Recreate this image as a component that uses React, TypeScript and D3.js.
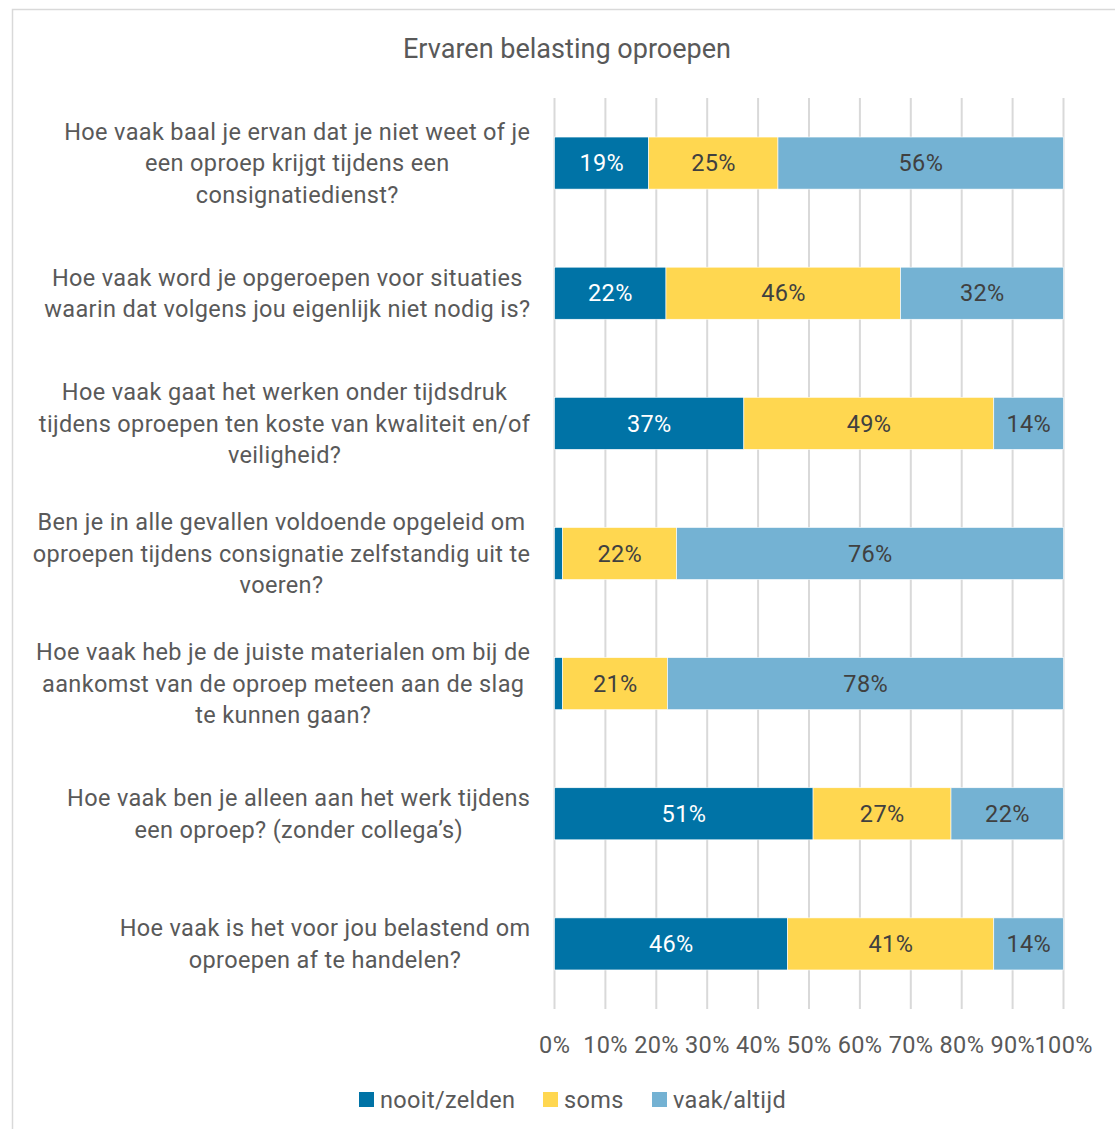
import React, { useEffect, useRef } from "react";
import * as d3 from "d3";

const title = "Ervaren belasting oproepen";

const questions: string[][] = [
  ["Hoe vaak baal je ervan dat je niet weet of je", "een oproep krijgt tijdens een", "consignatiedienst?"],
  ["Hoe vaak word je opgeroepen voor situaties", "waarin dat volgens jou eigenlijk niet nodig is?"],
  ["Hoe vaak gaat het werken onder tijdsdruk", "tijdens oproepen ten koste van kwaliteit en/of", "veiligheid?"],
  ["Ben je in alle gevallen voldoende opgeleid om", "oproepen tijdens consignatie zelfstandig uit te", "voeren?"],
  ["Hoe vaak heb je de juiste materialen om bij de", "aankomst van de oproep meteen aan de slag", "te kunnen gaan?"],
  ["Hoe vaak ben je alleen aan het werk tijdens", "een oproep? (zonder collega’s)"],
  ["Hoe vaak is het voor jou belastend om", "oproepen af te handelen?"],
];

const seriesNames = ["nooit/zelden", "soms", "vaak/altijd"];
const nooitZelden = [18.5, 21.9, 37.2, 1.6, 1.6, 50.8, 45.8];
const soms = [25.4, 46.1, 49.1, 22.4, 20.6, 27.1, 40.5];
const vaakAltijd = [56.1, 32.0, 13.7, 76.0, 77.8, 22.1, 13.7];

const xTicks = [0, 10, 20, 30, 40, 50, 60, 70, 80, 90, 100];

const colors = ["#0073a6", "#ffd750", "#74b2d3"];
const labelColors = ["#ffffff", "#404040", "#404040"];
const textColor = "#595959";
const font = "Roboto, 'Noto Sans', sans-serif";
const fs = 23.5;
const ls = 0.35;

export default function App() {
  const ref = useRef<SVGSVGElement>(null);

  useEffect(() => {
    const svg = d3.select(ref.current);
    svg.selectAll("*").remove();

    // outer border
    svg.append("rect")
      .attr("x", 12.5).attr("y", 9.5).attr("width", 1300).attr("height", 1300)
      .attr("fill", "#fff").attr("stroke", "#d9d9d9").attr("stroke-width", 1.5);

    // title
    svg.append("text")
      .attr("x", 567).attr("y", 58)
      .attr("text-anchor", "middle")
      .attr("font-family", font).attr("font-size", 28)
      .attr("fill", textColor)
      .attr("textLength", 328).attr("lengthAdjust", "spacingAndGlyphs")
      .text(title);

    const x = d3.scaleLinear().domain([0, 100]).range([554.5, 1063.5]);
    const y = d3.scaleBand<number>()
      .domain(d3.range(questions.length))
      .range([98, 1009])
      .paddingInner(0.6).paddingOuter(0.3);

    // grid
    svg.append("g").selectAll("line").data(xTicks).join("line")
      .attr("x1", (d) => x(d)).attr("x2", (d) => x(d))
      .attr("y1", 98).attr("y2", 1009)
      .attr("stroke", "#d9d9d9").attr("stroke-width", 2);

    // tick labels
    svg.append("g").selectAll("text").data(xTicks).join("text")
      .attr("x", (d) => x(d) + ls / 2).attr("y", 1045)
      .attr("dy", "0.35em")
      .attr("text-anchor", "middle")
      .attr("font-family", font).attr("font-size", fs)
      .attr("letter-spacing", ls)
      .attr("fill", textColor)
      .text((d) => `${d}%`);

    const table = questions.map((q, i) => ({
      i,
      nooit: nooitZelden[i],
      soms: soms[i],
      vaak: vaakAltijd[i],
    }));
    const stack = d3.stack<any>().keys(["nooit", "soms", "vaak"]);
    const layers = stack(table);

    layers.forEach((layer, k) => {
      const g = svg.append("g");
      g.selectAll("rect").data(layer).join("rect")
        .attr("x", (d) => x(d[0]))
        .attr("y", (d: any) => y(d.data.i)!)
        .attr("width", (d) => x(d[1]) - x(d[0]))
        .attr("height", y.bandwidth())
        .attr("fill", colors[k])
        .attr("stroke", "#ffffff").attr("stroke-width", 0.6);
      g.selectAll("text").data(layer.filter((d) => d[1] - d[0] >= 5)).join("text")
        .attr("x", (d) => (x(d[0]) + x(d[1])) / 2 + ls / 2)
        .attr("y", (d: any) => y(d.data.i)! + y.bandwidth() / 2)
        .attr("dy", "0.35em")
        .attr("text-anchor", "middle")
        .attr("font-family", font).attr("font-size", fs)
        .attr("letter-spacing", ls)
        .attr("fill", labelColors[k])
        .text((d) => `${Math.round(d[1] - d[0])}%`);
    });

    // category labels
    const lineH = 31.5;
    questions.forEach((lines, i) => {
      const cy = y(i)! + y.bandwidth() / 2;
      const g = svg.append("g");
      const texts = g.selectAll("text").data(lines).join("text")
        .attr("y", (_, j) => cy + (j - (lines.length - 1) / 2) * lineH)
        .attr("dy", "0.35em")
        .attr("text-anchor", "middle")
        .attr("font-family", font).attr("font-size", fs)
        .attr("letter-spacing", ls)
        .attr("fill", textColor)
        .text((d) => d);
      let maxW = 0;
      texts.each(function () {
        maxW = Math.max(maxW, (this as SVGTextElement).getComputedTextLength());
      });
      texts.attr("x", 530 + ls - maxW / 2);
    });

    // legend
    const legendX = [359, 543, 652];
    const lg = svg.append("g");
    seriesNames.forEach((name, k) => {
      lg.append("rect")
        .attr("x", legendX[k]).attr("y", 1092)
        .attr("width", 15).attr("height", 15)
        .attr("fill", colors[k]);
      lg.append("text")
        .attr("x", legendX[k] + 21).attr("y", 1099.5)
        .attr("dy", "0.35em")
        .attr("font-family", font).attr("font-size", fs)
        .attr("letter-spacing", ls)
        .attr("fill", textColor)
        .text(name);
    });
  }, []);

  return (
    <svg
      ref={ref}
      width={1115}
      height={1129}
      style={{ position: "absolute", left: 0, top: 0, display: "block" }}
    />
  );
}
